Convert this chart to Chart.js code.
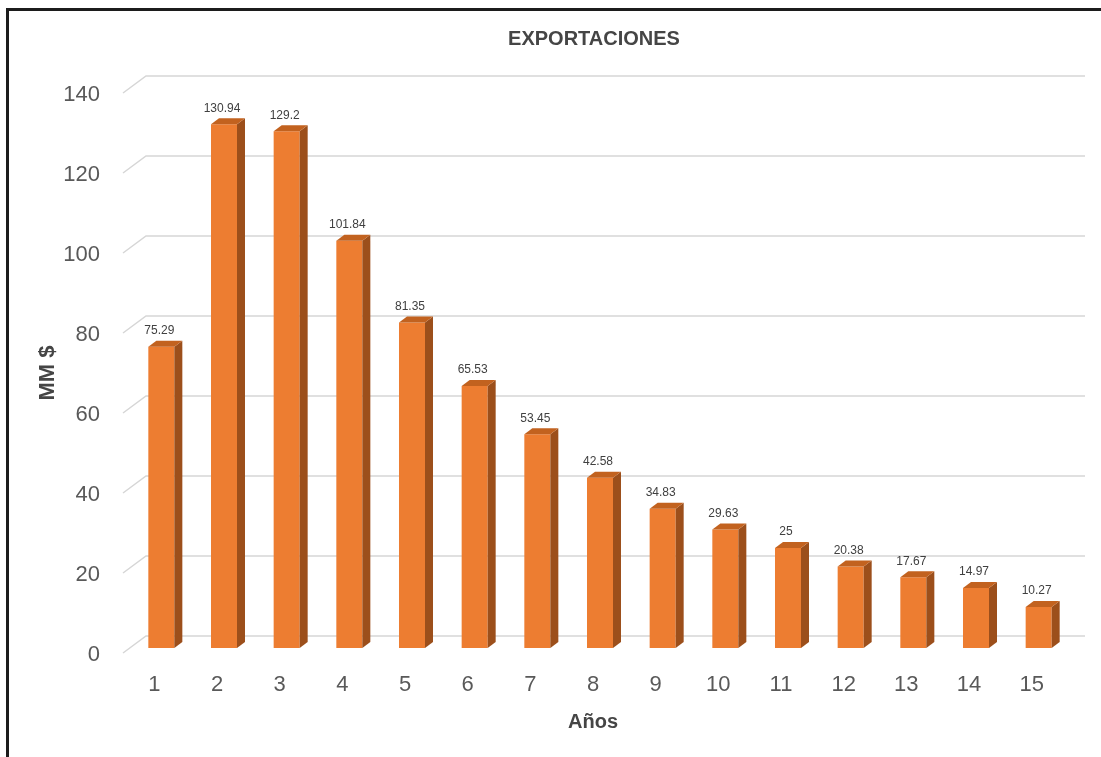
<!DOCTYPE html>
<html lang="es">
<head>
<meta charset="utf-8">
<title>Exportaciones</title>
<script src="https://cdn.jsdelivr.net/npm/chart.js@4.4.1/dist/chart.umd.min.js"></script>
<style>
  html, body { margin: 0; padding: 0; background: #ffffff; overflow: hidden; }
  #wrap { position: relative; width: 1101px; height: 757px; }
  #chart { position: absolute; left: 0; top: 0; }
  #frame {
    position: absolute; left: 6px; top: 8px; width: 1101px; height: 760px;
    border-top: 3px solid #1c1c1c; border-left: 3px solid #1c1c1c;
    pointer-events: none; box-sizing: border-box;
  }
</style>
</head>
<body>
<div id="wrap">
  <canvas id="chart" width="1101" height="757"></canvas>
  <div id="frame"></div>
</div>
<script>
// Años del periodo
const years = ['1', '2', '3', '4', '5', '6', '7', '8', '9', '10', '11', '12', '13', '14', '15'];
// Exportaciones por año (MM $)
const exportsMM = [75.29, 130.94, 129.2, 101.84, 81.35, 65.53, 53.45, 42.58, 34.83, 29.63, 25, 20.38, 17.67, 14.97, 10.27];
// Marcas del eje vertical
const yTicks = [0, 20, 40, 60, 80, 100, 120, 140];

const chartTitle = 'EXPORTACIONES';
const xTitle = 'Años';
const yTitle = 'MM $';

const FRONT_COLOR = '#ED7D31';
const SIDE_COLOR = '#9C4F1B';
const TOP_COLOR = '#C2621F';
const GRID_COLOR = '#d6d6d6';
const TEXT_COLOR = '#595959';
const TITLE_COLOR = '#454545';
const FONT = "'Liberation Sans', Arial, sans-serif";

// Perspective offsets of the 3D box (back wall / front edge relative to the bar plane)
const BACK_DX = 16, BACK_DY = -12;
const FRONT_DX = -7, FRONT_DY = 5;
const DEPTH_DX = 8, DEPTH_DY = -6;

// Back wall gridlines with the slanted side-wall segments
const grid3d = {
  id: 'grid3d',
  beforeDatasetsDraw(chart) {
    const { ctx, chartArea, scales } = chart;
    const y = scales.y;
    ctx.save();
    ctx.strokeStyle = GRID_COLOR;
    ctx.lineWidth = 1.5;
    yTicks.forEach(v => {
      const py = y.getPixelForValue(v);
      ctx.beginPath();
      ctx.moveTo(chartArea.left + FRONT_DX, py + FRONT_DY);
      ctx.lineTo(chartArea.left + BACK_DX, py + BACK_DY);
      ctx.lineTo(chartArea.right + BACK_DX - 1, py + BACK_DY);
      ctx.stroke();
    });
    ctx.restore();
  }
};

// Side and top faces of each bar, plus value labels
const bars3d = {
  id: 'bars3d',
  afterDatasetsDraw(chart) {
    const { ctx } = chart;
    const meta = chart.getDatasetMeta(0);
    ctx.save();
    meta.data.forEach((bar, i) => {
      const { x, y, base, width } = bar.getProps(['x', 'y', 'base', 'width'], true);
      const l = x - width / 2, r = x + width / 2;
      // side face
      ctx.fillStyle = SIDE_COLOR;
      ctx.beginPath();
      ctx.moveTo(r, y);
      ctx.lineTo(r + DEPTH_DX, y + DEPTH_DY);
      ctx.lineTo(r + DEPTH_DX, base + DEPTH_DY);
      ctx.lineTo(r, base);
      ctx.closePath();
      ctx.fill();
      // top face
      ctx.fillStyle = TOP_COLOR;
      ctx.beginPath();
      ctx.moveTo(l, y);
      ctx.lineTo(l + DEPTH_DX, y + DEPTH_DY);
      ctx.lineTo(r + DEPTH_DX, y + DEPTH_DY);
      ctx.lineTo(r, y);
      ctx.closePath();
      ctx.fill();
      // value label
      ctx.fillStyle = '#404040';
      ctx.font = '12px ' + FONT;
      ctx.textAlign = 'center';
      ctx.textBaseline = 'middle';
      ctx.fillText(String(exportsMM[i]), x - 2, y - 16);
    });
    ctx.restore();
  }
};

// Chart and axis titles
const titles = {
  id: 'titles',
  afterDraw(chart) {
    const { ctx } = chart;
    ctx.save();
    ctx.fillStyle = TITLE_COLOR;
    ctx.textAlign = 'center';
    ctx.textBaseline = 'middle';
    ctx.font = 'bold 20px ' + FONT;
    ctx.fillText(chartTitle, 594, 39);
    ctx.font = 'bold 20px ' + FONT;
    ctx.fillText(xTitle, 593, 722);
    ctx.translate(48, 373);
    ctx.rotate(-Math.PI / 2);
    ctx.font = 'bold 22px ' + FONT;
    ctx.fillText(yTitle, 0, 0);
    ctx.restore();
  }
};

new Chart(document.getElementById('chart'), {
  type: 'bar',
  data: {
    labels: years,
    datasets: [{
      label: chartTitle,
      data: exportsMM,
      backgroundColor: FRONT_COLOR,
      borderWidth: 0,
      categoryPercentage: 1,
      barPercentage: 0.415
    }]
  },
  options: {
    responsive: false,
    animation: false,
    devicePixelRatio: 1,
    layout: { padding: { top: 88, right: 31, bottom: 0, left: 0 } },
    plugins: {
      legend: { display: false },
      title: { display: false },
      tooltip: { enabled: false }
    },
    scales: {
      x: {
        grid: { display: false, drawTicks: false },
        border: { display: false },
        ticks: {
          color: TEXT_COLOR,
          font: { family: FONT, size: 22 },
          padding: 24,
          labelOffset: -7,
          maxRotation: 0
        },
        afterFit(scale) { scale.height = 109; }
      },
      y: {
        min: 0,
        max: 140,
        grid: { display: false, drawTicks: false },
        border: { display: false },
        ticks: {
          stepSize: 20,
          color: TEXT_COLOR,
          font: { family: FONT, size: 22 },
          padding: 30,
          labelOffset: 7
        },
        afterFit(scale) { scale.width = 130; }
      }
    }
  },
  plugins: [grid3d, bars3d, titles]
});
</script>
</body>
</html>
